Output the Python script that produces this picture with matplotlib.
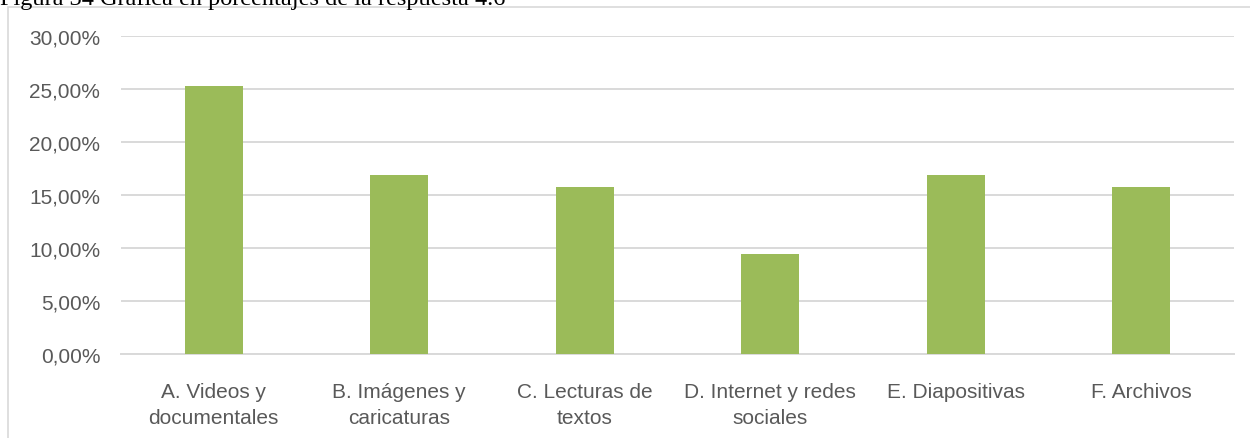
import matplotlib.pyplot as plt
from matplotlib.patches import Rectangle
from matplotlib.ticker import FuncFormatter

# respuesta 4.6: porcentaje por recurso
categorias = ['A. Videos y\ndocumentales', 'B. Imágenes y\ncaricaturas', 'C. Lecturas de\ntextos',
              'D. Internet y redes\nsociales', 'E. Diapositivas', 'F. Archivos']
porcentajes = [25.26, 16.84, 15.79, 9.47, 16.84, 15.79]
y_ticks = [0, 5, 10, 15, 20, 25, 30]

titulo = 'Figura 34 Gráfica en porcentajes de la respuesta 4.6'

verde = '#9bbb59'
gris = '#d9d9d9'
texto = '#595959'

W, H = 1250, 439
fig = plt.figure(figsize=(W / 100, H / 100), dpi=100)

# caption above the chart box (mostly cut off at the top)
fig.text(0, 1 - 5 / H, titulo, family='Liberation Serif', fontsize=17.5,
         ha='left', va='baseline', color='black')

# chart area border
fig.patches.append(Rectangle((8 / W, -0.1), 1.2, 1.1 - 8 / H, transform=fig.transFigure,
                             fill=False, edgecolor=gris, linewidth=1.2, zorder=0))

ax = fig.add_axes([121 / W, 1 - 355 / H, (1234 - 121) / W, (355 - 37) / H])
x = range(len(categorias))
ax.bar(x, porcentajes, width=0.31, color=verde, zorder=3)

ax.set_xlim(-0.5, len(categorias) - 0.5)
ax.set_ylim(0, 30)
ax.set_yticks(y_ticks)
ax.yaxis.set_major_formatter(FuncFormatter(lambda v, p: f'{v:.2f}%'.replace('.', ',')))
ax.set_xticks(list(x))
ax.set_xticklabels(categorias, linespacing=1.5)

ax.grid(axis='y', color=gris, linewidth=1.4, zorder=0)
for s in ['left', 'right', 'top']:
    ax.spines[s].set_visible(False)
ax.spines['bottom'].set_color(gris)
ax.spines['bottom'].set_linewidth(1.4)

ax.tick_params(axis='both', length=0, labelsize=15, labelcolor=texto)
ax.tick_params(axis='y', pad=15)
ax.tick_params(axis='x', pad=20)
for lbl in ax.get_xticklabels() + ax.get_yticklabels():
    lbl.set_family('Liberation Sans')

fig.savefig('out.png', dpi=100)
